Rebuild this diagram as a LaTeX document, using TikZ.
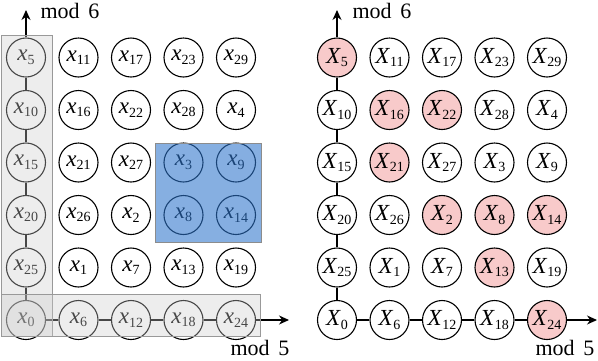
\documentclass[tikz,border=0pt]{standalone}
\usepackage{fontspec}
\setmainfont{Liberation Serif}
\usetikzlibrary{arrows.meta}
\definecolor{pinkc}{RGB}{248,202,202}
\definecolor{bluec}{RGB}{46,117,204}
\newcommand\lab[2]{\textit{#1}\raisebox{-3.5pt}{\fontsize{14}{14}\selectfont #2}}
\tikzset{
  cnode/.style={circle, draw=black, line width=1.1pt, fill=white, minimum size=39pt, inner sep=0pt, font=\fontsize{23}{26}\selectfont},
  conn/.style={line width=1.1pt},
  axis/.style={line width=1.1pt, -{Stealth[length=10pt,width=9pt]}},
  axlab/.style={font=\fontsize{22}{26}\selectfont, inner sep=0pt},
  graybox/.style={draw=gray!80, line width=0.8pt, fill=gray!40, fill opacity=0.35},
  bluebox/.style={draw=gray!90, line width=0.8pt, fill=bluec, fill opacity=0.58},
  pk/5/.style={fill=pinkc}, pk/16/.style={fill=pinkc}, pk/22/.style={fill=pinkc},
  pk/21/.style={fill=pinkc}, pk/2/.style={fill=pinkc}, pk/8/.style={fill=pinkc},
  pk/14/.style={fill=pinkc}, pk/13/.style={fill=pinkc}, pk/24/.style={fill=pinkc}
}
\begin{document}
\begin{tikzpicture}[x=1pt,y=-1pt]
\useasboundingbox (0,0) rectangle (598,360);
% axes
\coordinate (ltop) at (26,10);
\coordinate (lright) at (289,320);
\coordinate (rtop) at (337,10);
\coordinate (rright) at (597,320);
\foreach \c in {0,...,4} \foreach \r in {0,...,5} {
  \pgfmathtruncatemacro\v{mod(30-5*\r+6*\c,30)}
  \node[cnode] (L-\c-\r) at ({26+52.5*\c},{320-52.5*\r}) {\lab{x}{\v}};
  \node[cnode, pk/\v/.try] (R-\c-\r) at ({337+52.5*\c},{320-52.5*\r}) {\lab{X}{\v}};
}
\foreach \r [evaluate=\r as \rn using int(\r+1)] in {0,...,4} {
  \draw[conn] (L-0-\r) -- (L-0-\rn);
  \draw[conn] (R-0-\r) -- (R-0-\rn);
}
\foreach \c [evaluate=\c as \cn using int(\c+1)] in {0,...,3} {
  \draw[conn] (L-\c-0) -- (L-\cn-0);
  \draw[conn] (R-\c-0) -- (R-\cn-0);
}
\draw[axis] (L-0-5) -- (ltop);
\draw[axis] (L-4-0) -- (lright);
\draw[axis] (R-0-5) -- (rtop);
\draw[axis] (R-4-0) -- (rright);
\node[axlab] (lm6) at (70,11) {mod\hspace{0.4em}6};
\node[axlab] (lm5) at (260,348) {mod\hspace{0.4em}5};
\node[axlab] (rm6) at (382,11) {mod\hspace{0.4em}6};
\node[axlab] (rm5) at (565,348) {mod\hspace{0.4em}5};
% overlays
\draw[graybox] (1,35) rectangle (52,336);
\draw[graybox] (1,294) rectangle (260,336);
\draw[bluebox] (155,143) rectangle (261,242);
\end{tikzpicture}
\end{document}
